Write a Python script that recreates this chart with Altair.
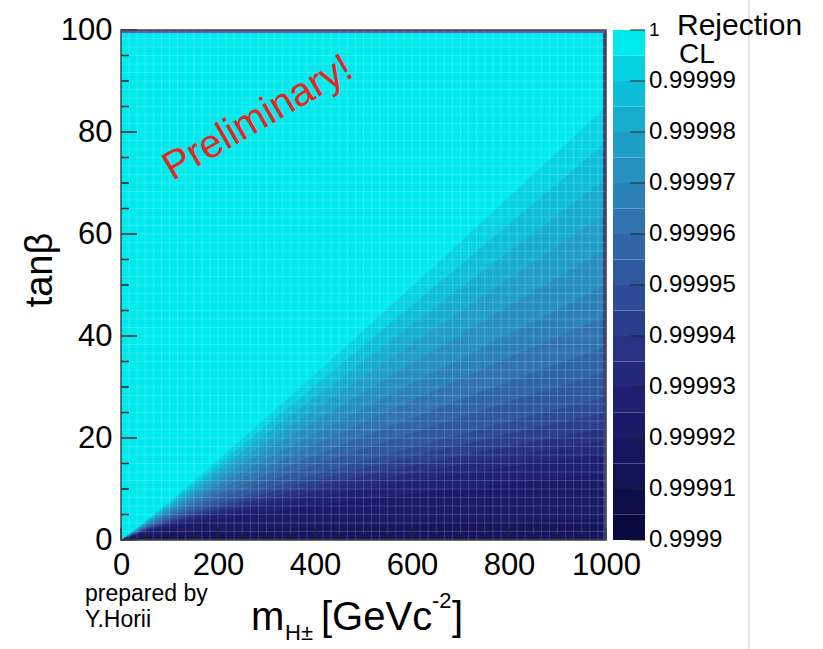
import altair as alt
import numpy as np
import pandas as pd

FONT = "Liberation Sans"
W, H = 485, 510

# Rejection CL colour levels: 20 steps from 0.9999 to 1
cl_edges = [0.9999, 0.999905, 0.99991, 0.999915, 0.99992, 0.999925, 0.99993,
            0.999935, 0.99994, 0.999945, 0.99995, 0.999955, 0.99996, 0.999965,
            0.99997, 0.999975, 0.99998, 0.999985, 0.99999, 0.999995, 1.0]
cl_ticks = [0.9999, 0.99991, 0.99992, 0.99993, 0.99994, 0.99995,
            0.99996, 0.99997, 0.99998, 0.99999, 1.0]
palette = ["#0a0a40", "#0d0d4a", "#111154", "#16165e", "#1b1a68", "#1f2072",
           "#23287a", "#273282", "#2a3e8c", "#2d4b96", "#2f599e", "#3066a6",
           "#2f74ae", "#2b82b6", "#2690be", "#1f9ec6", "#17aece", "#0ebed8",
           "#07d2e2", "#00e9ed"]

# contour boundaries: tan(beta) of each CL step at these charged-Higgs masses
contour_m = [0, 50, 100, 200, 350, 500, 650, 800, 1000]
contour_tanb = [
    [0, 3.66, 7.57, 15.69, 28.23, 41.06, 54.06, 67.25, 85.0],
    [0, 3.52, 7.20, 14.77, 26.33, 38.09, 49.94, 61.93, 78.0],
    [0, 3.37, 6.81, 13.81, 24.39, 35.07, 45.79, 56.59, 71.0],
    [0, 3.21, 6.41, 12.82, 22.42, 32.02, 41.61, 51.22, 64.0],
    [0, 3.04, 6.00, 11.82, 20.41, 28.94, 37.40, 45.83, 57.0],
    [0, 2.87, 5.55, 10.77, 18.36, 25.80, 33.14, 40.41, 50.0],
    [0, 2.70, 5.15, 9.83, 16.54, 23.07, 29.45, 35.75, 44.0],
    [0, 2.52, 4.73, 8.86, 14.69, 20.30, 25.73, 31.06, 38.0],
    [0, 2.37, 4.35, 8.01, 13.10, 17.94, 22.59, 27.12, 33.0],
    [0, 2.19, 3.95, 7.13, 11.47, 15.53, 19.41, 23.17, 28.0],
    [0, 2.08, 3.70, 6.58, 10.46, 14.07, 17.48, 20.78, 25.0],
    [0, 1.96, 3.43, 6.01, 9.43, 12.58, 15.54, 18.38, 22.0],
    [0, 1.86, 3.20, 5.51, 8.55, 11.32, 13.90, 16.37, 19.5],
    [0, 1.74, 2.95, 5.00, 7.65, 10.04, 12.25, 14.35, 17.0],
    [0, 1.54, 2.52, 4.13, 6.16, 7.94, 9.56, 11.09, 13.0],
    [0, 0.89, 1.26, 1.79, 2.37, 2.83, 3.22, 3.58, 4.0],
]
# colour level filling the region below each boundary
contour_level = [18, 17, 16, 15, 14, 13, 12, 11, 10, 9, 8, 7, 6, 5, 4, 3]

x_labels = [0, 200, 400, 600, 800, 1000]
y_labels = [0, 20, 40, 60, 80, 100]
x_minor = list(range(0, 1001, 50))
y_minor = list(range(0, 101, 5))
n_bins = 60

xs = alt.Scale(domain=[0, 1000], nice=False, zero=False)
ys = alt.Scale(domain=[0, 100], nice=False, zero=False)
cs = alt.Scale(domain=list(range(20)), range=palette)

# the colour bar spans the same height as the plot: CL 0.9999 -> bottom, 1 -> top
CL_TO_Y = "(datum.{f} - 0.9999) / 0.0001 * 100"


def colour(field="lvl:O"):
    return alt.Color(field, scale=cs, legend=None)


def box(m0, m1, t0, t1, **extra):
    return pd.DataFrame({"m0": [m0], "m1": [m1], "t0": [t0], "t1": [t1], **extra})


# saturated background (CL above the top step); carries the two axes
base = alt.Chart(box(0, 1000, 0, 100, lvl=[19])).mark_rect().encode(
    x=alt.X("m0:Q", scale=xs, axis=alt.Axis(
        values=x_labels, format="d", labelFontSize=31, labelFont=FONT, labelColor="black",
        ticks=False, tickSize=0, domain=False, grid=False, labelPadding=10,
        labelFlush=False, title=None)),
    x2="m1:Q",
    y=alt.Y("t0:Q", scale=ys, axis=alt.Axis(
        values=y_labels, format="d", labelFontSize=31, labelFont=FONT, labelColor="black",
        ticks=False, tickSize=0, domain=False, grid=False, labelPadding=9,
        title=None)),
    y2="t1:Q",
    color=colour(),
)

bands = []
for row, lvl in zip(contour_tanb, contour_level):
    df = pd.DataFrame({"m": contour_m, "tanb": row, "zero": 0, "lvl": lvl})
    bands.append(alt.Chart(df).mark_area(interpolate="linear").encode(
        x=alt.X("m:Q", scale=xs),
        y=alt.Y("tanb:Q", scale=ys),
        y2="zero:Q",
        color=colour(),
    ))


def plain_rect(df, fill):
    return alt.Chart(df).mark_rect(color=fill).encode(
        x=alt.X("m0:Q", scale=xs), x2="m1:Q",
        y=alt.Y("t0:Q", scale=ys), y2="t1:Q")


# last row / column of bins
top_row = plain_rect(box(0, 1000, 99.4, 100), "#5b5da9")
right_col = plain_rect(box(994, 1000, 0, 99.4), "#3a3c94")

# faint bin borders
bin_m = np.linspace(0, 1000, n_bins + 1)
bin_t = np.linspace(0, 100, n_bins + 1)
seam_v = alt.Chart(pd.DataFrame({"m": bin_m, "lo": 0, "hi": 100})).mark_rule(
    color="white", opacity=0.16, strokeWidth=1).encode(
    x=alt.X("m:Q", scale=xs),
    y=alt.Y("lo:Q", scale=ys), y2="hi:Q")
seam_h = alt.Chart(pd.DataFrame({"t": bin_t, "lo": 0, "hi": 1000})).mark_rule(
    color="white", opacity=0.16, strokeWidth=1).encode(
    y=alt.Y("t:Q", scale=ys),
    x=alt.X("lo:Q", scale=xs), x2="hi:Q")

# inward ticks
xt = pd.DataFrame({"m": x_minor, "lo": 0, "len": [2.4 if v % 200 == 0 else 1.2 for v in x_minor]})
yt = pd.DataFrame({"t": y_minor, "lo": 0, "len": [33 if v % 20 == 0 else 16.5 for v in y_minor]})
xticks = alt.Chart(xt).mark_rule(color="#222222", strokeWidth=1.5).encode(
    x=alt.X("m:Q", scale=xs),
    y=alt.Y("lo:Q", scale=ys), y2="len:Q")
yticks = alt.Chart(yt).mark_rule(color="#222222", strokeWidth=1.5).encode(
    y=alt.Y("t:Q", scale=ys),
    x=alt.X("lo:Q", scale=xs), x2="len:Q")

frame = alt.Chart(box(0, 1000, 0, 100)).mark_rect(
    filled=False, stroke="#444444", strokeWidth=1.5).encode(
    x=alt.X("m0:Q", scale=xs), x2="m1:Q",
    y=alt.Y("t0:Q", scale=ys), y2="t1:Q")

# colour bar
cb_df = pd.DataFrame({"lo": cl_edges[:-1], "hi": cl_edges[1:], "lvl": list(range(20))})
cb_rect = alt.Chart(cb_df).transform_calculate(
    ylo=CL_TO_Y.format(f="lo"), yhi=CL_TO_Y.format(f="hi")
).mark_rect().encode(
    x=alt.value(492), x2=alt.value(524),
    y=alt.Y("ylo:Q", scale=ys), y2="yhi:Q",
    color=colour(),
)
cb_tick_df = pd.DataFrame({"v": cl_ticks})
cb_ticks = alt.Chart(cb_tick_df).transform_calculate(
    yv=CL_TO_Y.format(f="v")
).mark_rule(color="#222222", strokeWidth=1).encode(
    x=alt.value(509), x2=alt.value(524), y=alt.Y("yv:Q", scale=ys))
cb_labels = alt.Chart(cb_tick_df).transform_calculate(
    yv=CL_TO_Y.format(f="v"), txt="format(datum.v, '.5~f')"
).mark_text(font=FONT, color="black", align="left", baseline="middle").encode(
    x=alt.value(528), y=alt.Y("yv:Q", scale=ys), text="txt:N",
    size=alt.condition("datum.v == 1", alt.value(19), alt.value(24)))


def label(text, x, y, size, **kw):
    return alt.Chart(pd.DataFrame({"t": [text]})).mark_text(
        font=FONT, fontSize=size, **kw).encode(
        x=alt.value(x), y=alt.value(y), text="t:N")


texts = [
    label("Preliminary!", 137, 88, 40, color="#e8251f", angle=330, align="center", baseline="middle"),
    label("tanβ", -80, 240, 38, color="black", angle=270, align="center", baseline="middle"),
    label("m", 130, 600, 40, color="black", align="left", baseline="alphabetic"),
    label("H±", 164, 610, 22, color="black", align="left", baseline="alphabetic"),
    label("[GeVc", 200, 600, 40, color="black", align="left", baseline="alphabetic"),
    label("-2", 311, 578, 22, color="black", align="left", baseline="alphabetic"),
    label("]", 331, 600, 40, color="black", align="left", baseline="alphabetic"),
    label("prepared  by", -36, 571, 23, color="black", align="left", baseline="alphabetic"),
    label("Y.Horii", -36, 597, 23, color="black", align="left", baseline="alphabetic"),
    label("Rejection", 556, 5, 30, color="black", align="left", baseline="alphabetic"),
    label("CL", 558, 33, 28, color="black", align="left", baseline="alphabetic"),
]

edge_line = alt.Chart(pd.DataFrame({"a": [0]})).mark_rule(color="#cccccc", strokeWidth=1).encode(
    x=alt.value(628), y=alt.value(-30), y2=alt.value(619))

chart = alt.layer(
    base, *bands, top_row, right_col, seam_v, seam_h, xticks, yticks, frame,
    cb_rect, cb_ticks, cb_labels, edge_line, *texts,
).properties(
    width=W, height=H,
    autosize=alt.AutoSizeParams(type="none"),
    padding={"left": 121, "top": 30, "right": 217, "bottom": 109},
)

chart.save("out.html", embed_options={"renderer": "svg", "actions": False})
